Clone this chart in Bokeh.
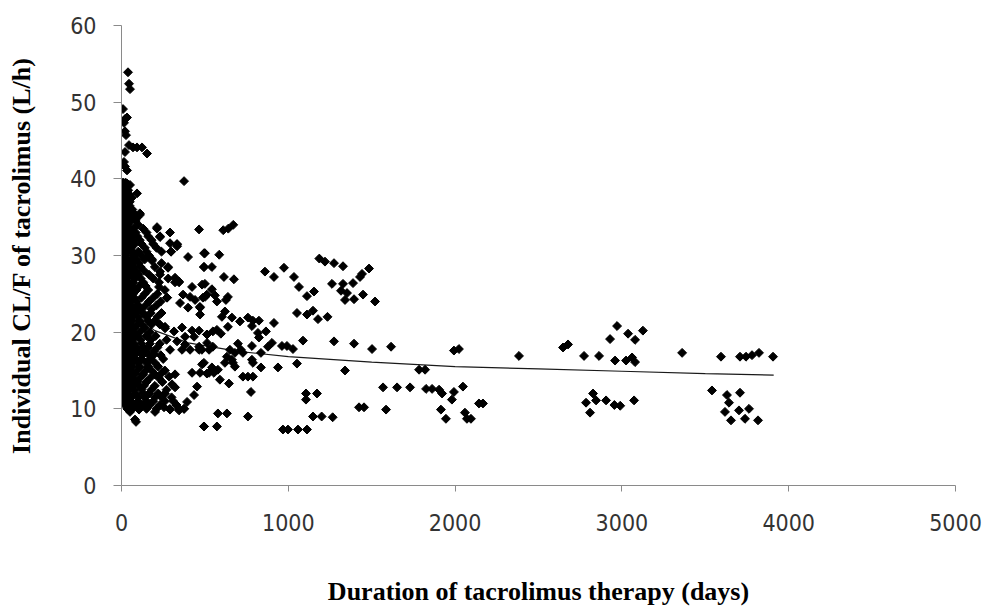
from bokeh.plotting import figure
from bokeh.models import Range1d, FixedTicker, ColumnDataSource
from bokeh.embed import file_html
from bokeh.resources import INLINE
import math

# ---- tick labels ----
x_ticks = [0, 1000, 2000, 3000, 4000, 5000]
y_ticks = [0, 10, 20, 30, 40, 50, 60]

# ---- dense cluster near day 0 (rows of y, with the x values in each row) ----
dense_row_y = [38.5, 37.5, 36.5, 35.5, 34.5, 33.5, 32.5, 31.5, 30.5, 29.5,
               28.5, 27.5, 26.5, 25.5, 24.5, 23.5, 22.5, 21.5, 20.5, 19.5,
               18.5, 17.5, 16.5, 15.5, 14.5, 13.5, 12.5, 11.5, 10.5, 10.0]
dense_row_x = [
    [5, 14, 28, 40],
    [8, 22, 35, 60],
    [4, 16, 30, 48],
    [10, 24, 42, 75, 110],
    [3, 18, 33, 55, 85],
    [8, 26, 45, 70, 130, 213],
    [4, 15, 36, 60, 95, 160, 231],
    [10, 22, 48, 80, 120, 190, 333],
    [5, 18, 40, 65, 100, 150, 240, 297],
    [12, 30, 55, 90, 140, 183],
    [4, 20, 45, 75, 115, 200, 279],
    [9, 28, 60, 100, 165, 231],
    [3, 16, 40, 70, 130, 225, 321, 345],
    [10, 25, 55, 90, 160, 260],
    [5, 18, 42, 75, 120, 190, 273],
    [12, 30, 60, 100, 145, 210],
    [4, 20, 48, 85, 130, 175, 240],
    [9, 28, 65, 110, 160, 200],
    [3, 16, 40, 80, 140, 261],
    [10, 25, 55, 95, 150, 205],
    [5, 18, 45, 75, 120, 170, 230],
    [12, 30, 60, 100, 140, 195],
    [4, 20, 48, 85, 120, 175, 250],
    [9, 28, 65, 110, 160, 220],
    [3, 16, 40, 80, 130, 200],
    [10, 25, 55, 95, 150, 245],
    [5, 18, 45, 75, 120, 180, 270],
    [12, 30, 60, 100, 140, 200, 240, 300],
    [20, 45, 80, 120, 170, 230, 330],
    [35, 65, 105, 150, 210, 290, 345, 375],
]
# second, interleaved set of rows in the same cluster
fill_row_y = [39.5, 38.0, 37.0, 36.0, 35.0, 34.0, 33.0, 32.0, 31.0, 30.0,
              29.0, 28.0, 27.0, 26.0, 25.0, 24.0, 23.0, 22.0, 21.0, 20.0,
              19.0, 18.0, 17.0, 16.0, 15.0, 14.0, 13.0, 12.0, 11.0]
fill_row_x = [
    [3, 12, 25],
    [10, 20, 45],
    [3, 26, 50],
    [12, 38, 65],
    [6, 28, 60, 95],
    [12, 40, 100],
    [6, 20, 55, 85, 150],
    [2, 30, 70, 110, 180],
    [14, 35, 58, 140, 210],
    [3, 25, 75, 120, 165],
    [8, 38, 65, 105, 240],
    [2, 15, 50, 85, 135],
    [12, 35, 80, 115, 190, 280],
    [6, 28, 62, 105, 145],
    [2, 15, 38, 70, 140, 215],
    [8, 25, 52, 90, 165, 235],
    [3, 18, 40, 75, 115, 180],
    [12, 35, 62, 100, 150, 215],
    [6, 22, 52, 95, 120, 180, 230],
    [2, 14, 33, 70, 110, 170],
    [8, 38, 65, 115, 175, 270],
    [3, 24, 52, 88, 130, 160, 215],
    [14, 40, 75, 125, 165, 235],
    [7, 35, 60, 100, 150, 200],
    [2, 18, 52, 95, 145, 180, 260],
    [14, 35, 65, 110, 170, 225],
    [3, 30, 65, 105, 135, 200],
    [10, 40, 85, 130, 165, 220, 260],
    [5, 25, 55, 100, 150, 190, 260, 310],
]

# ---- scattered points (days, L/h) ----
early_x = [39, 45, 51, 9, 21, 33, 15, 21, 27, 45, 69, 93, 123, 153, 21, 15, 21, 33,
           375, 33, 15, 51, 21, 45, 93, 15, 33, 21]
early_y = [53.9, 52.4, 51.7, 49.1, 47.8, 48.0, 47.3, 46.2, 45.7, 44.4, 44.1, 44.1, 44.1,
           43.3, 43.5, 42.2, 41.6, 41.1, 39.7, 39.4, 39.0, 39.2, 38.3, 37.9, 38.1, 37.6,
           37.0, 36.3]

mid_x = [111, 213, 291, 465, 231, 333, 297, 399, 495, 183, 279, 495, 231, 321, 345, 423,
         483, 369, 411, 441, 501, 351, 399, 471, 471, 273, 225, 261, 315, 363, 423, 465,
         381, 435, 513, 333, 381, 465, 513, 291, 333,
         291, 363, 411, 465, 525, 195, 483, 423, 471, 525, 243, 285, 321, 303, 321, 453,
         435, 393, 375, 345, 291, 255, 201, 153, 105, 75, 51, 81, 495, 87]
mid_y = [35.3, 33.7, 33.0, 33.4, 32.4, 31.4, 30.5, 29.8, 30.3, 29.3, 28.4, 28.5, 27.9,
         27.1, 26.6, 25.9, 26.2, 24.9, 24.6, 24.2, 24.6, 23.8, 23.2, 23.2, 22.3, 24.5,
         25.9, 20.7, 20.1, 20.6, 20.2, 20.2, 19.4, 19.4, 19.7, 18.8, 18.4, 18.1, 18.6,
         31.6, 31.2,
         17.7, 17.7, 17.7, 17.7, 17.7, 17.1, 15.8, 14.7, 14.7, 14.7, 14.7, 14.2, 14.5,
         13.2, 12.8, 12.9, 11.8, 10.9, 10.0, 9.8, 9.9, 10.2, 9.6, 10.2, 9.9, 10.3, 9.6,
         8.6, 7.7, 8.3]

year1_x = [610, 640, 670, 500, 586, 494, 542, 860, 914, 974, 1034, 1064, 1112, 1154,
           1186, 1220, 614, 674, 500, 542, 512, 488, 560, 572, 638, 626, 470, 1052, 1112,
           1148, 1178, 1235, 602, 620, 662, 710, 758, 788, 824, 782, 638, 914, 866, 818,
           824, 512, 548, 572, 596, 1088, 902, 962, 992, 1028, 782, 698, 716, 728, 680,
           650, 548, 482, 878, 836, 632, 662, 668, 620, 782, 788, 680, 494, 542, 512,
           554, 578, 836, 938, 1052, 590, 644, 728, 758, 788, 776, 1106, 1106, 1172, 578,
           632, 758, 1148, 1200, 1266, 494, 572, 968, 998, 1058, 1112]
year1_y = [33.3, 33.5, 34.0, 30.3, 30.1, 28.5, 28.5, 27.9, 27.2, 28.4, 27.2, 25.9, 24.7,
           25.3, 29.6, 29.2, 27.2, 26.9, 26.3, 25.6, 24.9, 24.5, 24.8, 24.0, 24.6, 24.2,
           23.3, 22.5, 22.3, 22.8, 21.7, 22.0, 22.0, 22.7, 21.9, 21.4, 21.9, 21.5, 21.5,
           20.8, 20.7, 21.2, 20.1, 19.9, 19.3, 19.7, 20.1, 20.3, 19.8, 18.9, 18.6, 18.2,
           18.2, 17.8, 18.2, 18.5, 17.7, 17.3, 17.3, 17.7, 18.1, 17.7, 18.1, 17.3, 16.8,
           16.4, 16.0, 16.0, 16.4, 16.0, 15.5, 16.0, 15.4, 14.6, 14.7, 15.1, 15.4, 15.4,
           15.9, 13.8, 13.3, 14.2, 14.2, 14.2, 12.2, 12.0, 11.2, 12.0, 9.4, 9.4, 9.0, 9.0,
           9.0, 8.9, 7.7, 7.7, 7.3, 7.3, 7.3, 7.3]

year2_x = [1274, 1328, 1484, 1430, 1442, 1262, 1328, 1388, 1316, 1352, 1340, 1394, 1448,
           1520, 1274, 1394, 1502, 1616, 1340, 1784, 1820, 1568, 1652, 1730, 1826, 1862,
           1904, 1922, 1424, 1454, 1586]
year2_y = [29.0, 28.6, 28.3, 27.2, 27.6, 26.3, 26.3, 26.4, 25.4, 25.1, 24.2, 24.3, 24.9,
           24.0, 18.8, 18.5, 17.8, 18.1, 15.0, 15.1, 15.1, 12.8, 12.8, 12.8, 12.6, 12.6,
           12.5, 12.0, 10.2, 10.2, 9.9]

late_x = [1993, 2023, 2383, 2647, 2677, 2773, 2863, 2929, 2971, 2959, 1993, 1981, 2047,
          1915, 1945, 2059, 2071, 2095, 2143, 2167, 2785, 2827, 2845, 2809, 2905, 2955,
          2990, 3037, 3079, 3126, 3025, 3061, 3079, 3361, 3073,
          3594, 3708, 3744, 3780, 3822, 3906, 3540, 3630, 3708, 3642, 3618, 3702, 3762,
          3654, 3738, 3816]
late_y = [17.6, 17.8, 16.9, 18.0, 18.4, 16.9, 16.9, 19.1, 20.8, 16.3, 12.2, 11.2, 12.9,
          9.9, 8.7, 9.5, 8.7, 8.7, 10.7, 10.7, 10.8, 12.0, 11.1, 9.5, 11.1, 10.5, 10.4,
          19.8, 19.0, 20.2, 16.3, 16.7, 16.1, 17.3, 11.1,
          16.8, 16.8, 16.8, 17.0, 17.3, 16.8, 12.4, 11.8, 12.1, 10.8, 9.6, 9.8, 10.0,
          8.5, 8.7, 8.5]

# ---- trend line ----
trend_x = [2, 5, 10, 20, 50, 100, 200, 400, 700, 1000, 1500, 2000, 2500, 3000, 3500, 3910]
trend_y = [33.9, 30.6, 28.3, 26.2, 23.6, 21.8, 20.2, 18.6, 17.5, 16.8, 16.1, 15.5, 15.2,
           14.9, 14.6, 14.4]

x_title = "Duration of tacrolimus therapy (days)"
y_title = "Individual CL/F of tacrolimus (L/h)"

xs, ys = [], []
for rows_y, rows_x in [(dense_row_y, dense_row_x), (fill_row_y, fill_row_x)]:
    for yv, row in zip(rows_y, rows_x):
        for xv in row:
            xs.append(xv)
            ys.append(yv)
for gx, gy in [(early_x, early_y), (mid_x, mid_y), (year1_x, year1_y),
               (year2_x, year2_y), (late_x, late_y)]:
    xs.extend(gx)
    ys.extend(gy)

src = ColumnDataSource(dict(x=xs, y=ys))

p = figure(width=988, height=608, x_range=Range1d(0, 5000), y_range=Range1d(0, 60),
           output_backend="svg", toolbar_location=None,
           min_border_left=121, min_border_right=33, min_border_top=25,
           min_border_bottom=122)
p.outline_line_color = None
p.grid.visible = False
p.background_fill_color = "white"
p.border_fill_color = "white"

# trend line first, so the dense points hide it like in the original
p.line(trend_x, trend_y, line_color="#1a1a1a", line_width=1.2)
p.scatter("x", "y", source=src, marker="square", size=6.3, angle=math.pi / 4,
          fill_color="black", line_color="black", line_width=1)

tick_font = "DejaVu Sans Condensed"
for ax in (p.xaxis[0], p.yaxis[0]):
    ax.axis_line_color = "#8a8a8a"
    ax.major_tick_line_color = "#8a8a8a"
    ax.minor_tick_line_color = None
    ax.major_tick_in = 0
    ax.major_label_text_font = tick_font
    ax.major_label_text_font_size = "23px"
    ax.major_label_text_color = "#333333"
    ax.axis_label_text_font = "Liberation Serif"
    ax.axis_label_text_font_style = "bold"
    ax.axis_label_text_font_size = "26px"
    ax.axis_label_text_color = "black"

p.xaxis.ticker = FixedTicker(ticks=x_ticks)
p.yaxis.ticker = FixedTicker(ticks=y_ticks)
p.xaxis.major_tick_out = 6
p.yaxis.major_tick_out = 8
p.xaxis.major_label_standoff = 22
p.yaxis.major_label_standoff = 17
p.xaxis.axis_label = x_title
p.yaxis.axis_label = y_title
p.xaxis.axis_label_standoff = 43
p.yaxis.axis_label_standoff = 31

open("out.html", "w").write(file_html(p, INLINE))
